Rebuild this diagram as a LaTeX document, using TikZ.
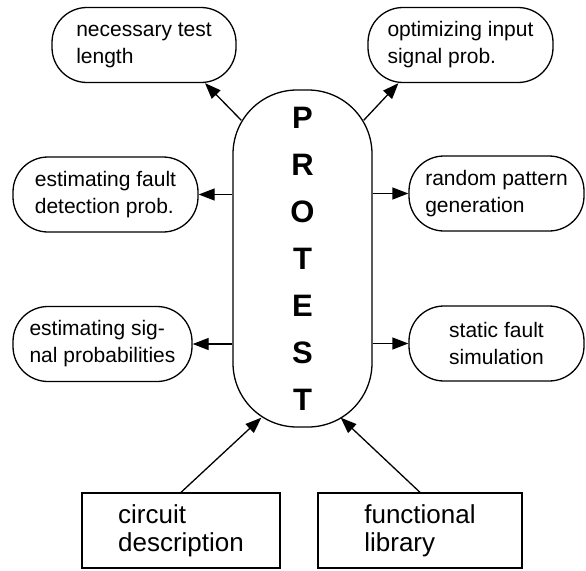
\documentclass[tikz,border=0pt]{standalone}
\usepackage{fontspec}
\setmainfont{Liberation Sans}
\usetikzlibrary{arrows.meta}
\newcommand{\bubtext}{\fontsize{21}{27}\selectfont}
\newcommand{\inptext}{\fontsize{26}{28}\selectfont}
\newcommand{\bigtext}{\fontsize{31}{47}\selectfont\bfseries}

\begin{document}
\begin{tikzpicture}[x=1pt,y=-1pt]
                        \tikzstyle{bubble}=[draw, line width=1.3pt, rounded corners=35pt, inner sep=0pt, minimum height=75pt, align=left, font=\bubtext]
                        \tikzstyle{source}=[draw, line width=1.3pt, inner sep=0pt, minimum height=75pt, align=left, font=\inptext]
                        \tikzstyle{arr}=[line width=1.3pt, -{Triangle[length=16pt,width=12pt]}]
                        \useasboundingbox (0,0) rectangle (586,570);
                        \node[draw, line width=1.3pt, rounded corners=64pt, minimum width=139pt, minimum height=337pt, align=center, font=\bigtext] (protest) at (302.5,258.5) {P\\R\\O\\T\\E\\S\\T};
                        \node[bubble, minimum width=184pt] (length) at (144,45) {necessary test\\length};
                        \node[bubble, minimum width=185pt] (faultdet) at (105.5,194.5) {estimating fault\\detection prob.};
                        \node[bubble, minimum width=179pt] (sigprob) at (102.5,344) {estimating sig-\\nal probabilities};
                        \node[bubble, minimum width=185pt] (optim) at (460.5,45) {optimizing input\\signal prob.};
                        \node[bubble, minimum width=175pt] (random) at (496.5,193.5) {random pattern\\generation};
                        \node[bubble, minimum width=175pt] (static) at (496.5,343.5) {static fault\\simulation};
                        \node[source, minimum width=198pt] (circuit) at (181,530.5) {circuit\\description};
                        \node[source, minimum width=204pt] (library) at (420,530.5) {functional\\library};
                        \coordinate (ul) at ([shift={(9,31)}]protest.north west);
                        \coordinate (ur) at ([shift={(-9,31)}]protest.north east);
                        \coordinate (bl) at ([shift={(29,-10)}]protest.south west);
                        \coordinate (br) at ([shift={(-32,-10)}]protest.south east);
                        \draw[arr] (ul) -- ([xshift=61pt]length.south);
                        \draw[arr] (ur) -- ([xshift=-62pt]optim.south);
                        \draw[arr] (protest.west |- faultdet) -- (faultdet.east);
                        \draw[arr] (protest.west |- sigprob) -- (sigprob.east);
                        \draw[arr] (protest.east |- random) -- (random.west);
                        \draw[arr] (protest.east |- static) -- (static.west);
                        \draw[arr] (circuit.north) -- (bl);
                        \draw[arr] (library.north) -- (br);
\end{tikzpicture}
\end{document}
